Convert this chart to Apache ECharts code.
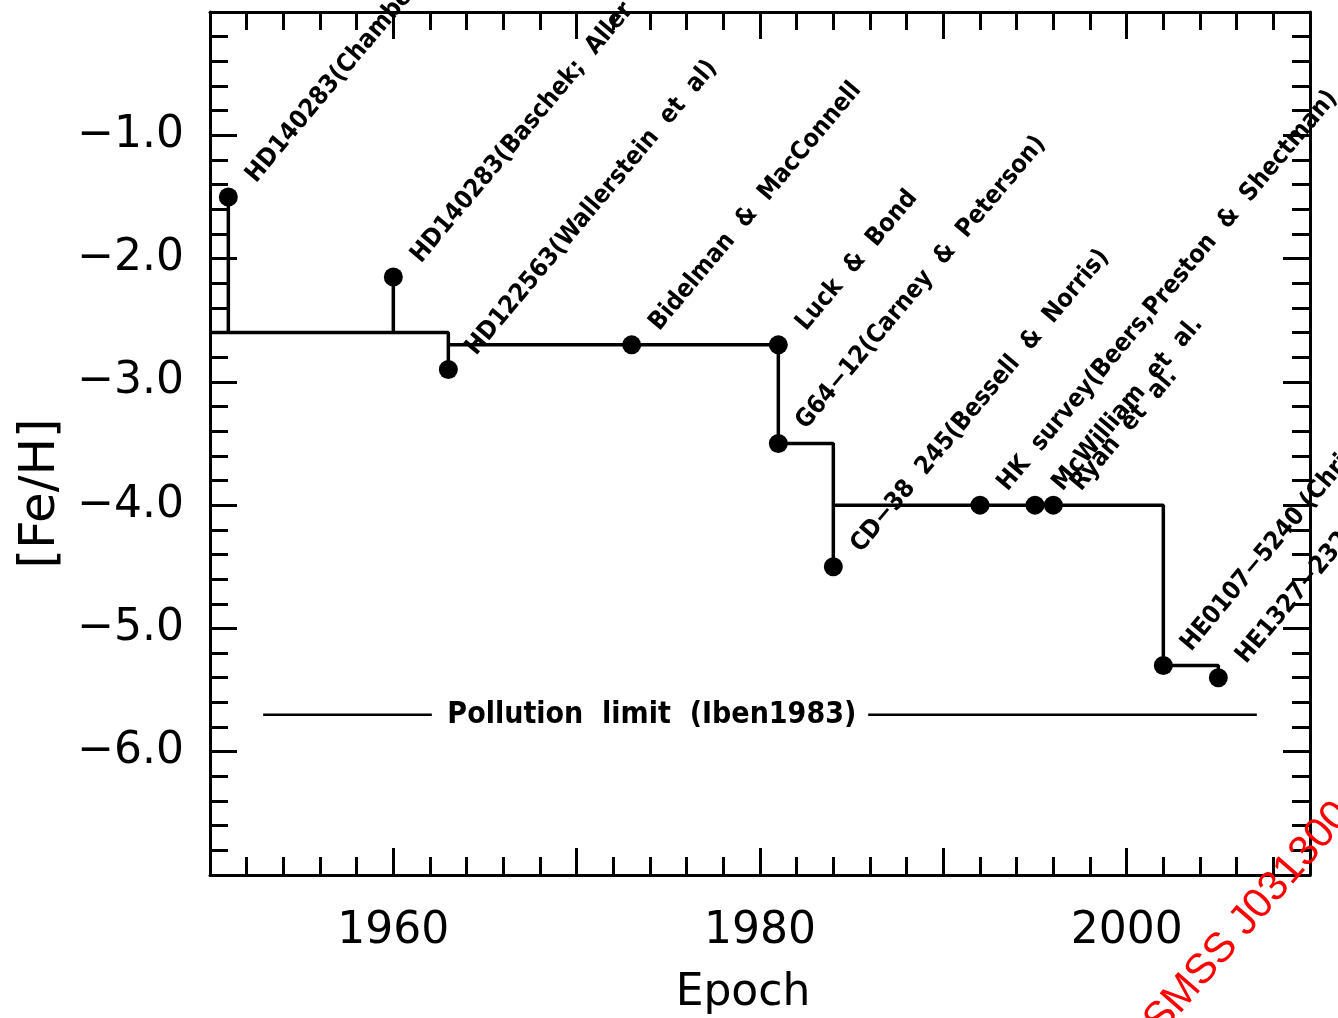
<!DOCTYPE html>
<html>
<head>
<meta charset="utf-8">
<title>[Fe/H] record vs epoch</title>
<script src="https://cdn.jsdelivr.net/npm/echarts@6/dist/echarts.min.js"></script>
<style>
  html, body { margin: 0; padding: 0; background: #fff; }
  #chart { width: 1338px; height: 1018px; }
</style>
</head>
<body>
<div id="chart"></div>
<script>
// Discovery epoch and metallicity of the most metal-poor stars known at the time
const years = [1951, 1960, 1963, 1973, 1981, 1981, 1984, 1992, 1995, 1996, 2002, 2005];
const feh = [-1.5, -2.15, -2.9, -2.7, -2.7, -3.5, -4.5, -4.0, -4.0, -4.0, -5.3, -5.4];
const names = [
  'HD140283(Chamberlain  &  Aller)',
  'HD140283(Baschek;  Aller  &  Greenstein)',
  'HD122563(Wallerstein  et  al)',
  'Bidelman  &  MacConnell',
  'Luck  &  Bond',
  'G64\u221212(Carney  &  Peterson)',
  'CD\u221238  245(Bessell  &  Norris)',
  'HK  survey(Beers,Preston  &  Shectman)',
  'McWilliam  et  al.',
  'Ryan  et  al.',
  'HE0107\u22125240 (Christlieb  et  al.)',
  'HE1327\u22122326 (Frebel  et  al.)'
];

// Record-low envelope, drawn as separate polyline pieces
const recordX = [
  [1951, 1951],
  [1950, 1963, 1963],
  [1960, 1960],
  [1963, 1981, 1981, 1984, 1984],
  [1984, 2002, 2002, 2005, 2005]
];
const recordY = [
  [-1.5, -2.6],
  [-2.6, -2.6, -2.9],
  [-2.15, -2.6],
  [-2.7, -2.7, -3.5, -3.5, -4.5],
  [-4.0, -4.0, -5.3, -5.3, -5.4]
];

// Pollution limit line (two spans around its caption)
const pollutionFeH = -5.7;
const pollutionSpans = [[1952.9, 1962.1], [1985.9, 2007.1]];
const pollutionText = 'Pollution  limit  (Iben1983)';
const pollutionTextYear = 1974.1;

// Later record holder, below the plotted range
const smssYear = 2014;
const smssFeH = -7.1;
const smssName = 'SMSS J031300.36\u2212670839.3';

// Tick labels
const xTickLabels = [1960, 1980, 2000];
const yTickLabels = [-1, -2, -3, -4, -5, -6];

const chart = echarts.init(document.getElementById('chart'), null, { renderer: 'canvas' });

const axisLineStyle = { color: '#000', width: 3 };
function xAxisCfg(pos, showLabels) {
  return {
    type: 'value', position: pos, min: 1950, max: 2010, interval: 10,
    axisLine: { show: true, onZero: false, lineStyle: axisLineStyle },
    axisTick: { show: true, inside: true, length: 27, lineStyle: { color: '#000', width: 3 } },
    minorTick: { show: true, splitNumber: 5, length: 18, lineStyle: { color: '#000', width: 3 } },
    splitLine: { show: false }, minorSplitLine: { show: false },
    axisLabel: {
      show: showLabels, margin: 35, color: '#000', fontSize: 44, fontFamily: 'DejaVu Sans',
      formatter: v => xTickLabels.includes(v) ? String(v) : ''
    },
    name: showLabels ? 'Epoch' : '', nameLocation: 'middle', nameGap: 97,
    nameTextStyle: { color: '#000', fontSize: 44, fontFamily: 'DejaVu Sans', padding: [0, 34, 0, 0] }
  };
}
function yAxisCfg(pos, showLabels) {
  return {
    type: 'value', position: pos, min: -7, max: 0, interval: 1,
    axisLine: { show: true, onZero: false, lineStyle: axisLineStyle },
    axisTick: { show: true, inside: true, length: 27, lineStyle: { color: '#000', width: 3 } },
    minorTick: { show: true, splitNumber: 5, length: 18, lineStyle: { color: '#000', width: 3 } },
    splitLine: { show: false }, minorSplitLine: { show: false },
    axisLabel: {
      show: showLabels, margin: 26, color: '#000', fontSize: 44, fontFamily: 'DejaVu Sans',
      formatter: v => yTickLabels.includes(v) ? '\u2212' + Math.abs(v).toFixed(1) : ''
    },
    name: showLabels ? '[Fe/H]' : '', nameLocation: 'middle', nameGap: 139, nameRotate: 90,
    nameTextStyle: { color: '#000', fontSize: 50, fontFamily: 'DejaVu Sans', padding: [0, 100, 0, 0] }
  };
}

const series = [];
recordX.forEach((xs, i) => {
  series.push({
    type: 'line', symbol: 'none', silent: true, z: 3,
    lineStyle: { color: '#000', width: 3.5 },
    data: xs.map((x, j) => [x, recordY[i][j]])
  });
});
pollutionSpans.forEach(span => {
  series.push({
    type: 'line', symbol: 'none', silent: true, z: 3,
    lineStyle: { color: '#000', width: 2.5 },
    data: span.map(x => [x, pollutionFeH])
  });
});
series.push({
  type: 'scatter', symbolSize: 0, silent: true, z: 4,
  itemStyle: { opacity: 1 },
  data: [[pollutionTextYear, pollutionFeH]],
  label: {
    show: true, position: 'inside', align: 'center', verticalAlign: 'middle',
    formatter: pollutionText, color: '#000', textBorderWidth: 0,
    fontSize: 30, fontWeight: 'bold', fontFamily: 'DejaVu Sans Condensed'
  }
});
series.push({
  type: 'scatter', symbol: 'circle', symbolSize: 19, silent: true, z: 5,
  itemStyle: { color: '#000', opacity: 1 },
  data: years.map((y, i) => [y, feh[i]]),
  label: {
    show: true, position: 'inside', align: 'left', verticalAlign: 'middle',
    rotate: 50, offset: [28, 6],
    formatter: p => names[p.dataIndex], color: '#000', textBorderWidth: 0,
    fontSize: 25, fontWeight: 'bold', fontFamily: 'DejaVu Sans Condensed'
  }
});
series.push({
  type: 'scatter', symbolSize: 0, silent: true, clip: false, z: 5,
  itemStyle: { opacity: 1 },
  data: [[smssYear, smssFeH]],
  label: {
    show: true, position: 'inside', align: 'left', verticalAlign: 'bottom',
    rotate: 49, offset: [-258, -61],
    formatter: smssName, color: '#ff0000', textBorderWidth: 0,
    fontSize: 42, fontFamily: 'Liberation Sans'
  }
});

chart.setOption({
  animation: false,
  backgroundColor: '#fff',
  grid: { left: 210, top: 12, right: 28, bottom: 143, containLabel: false, outerBoundsMode: 'none' },
  xAxis: [xAxisCfg('bottom', true), xAxisCfg('top', false)],
  yAxis: [yAxisCfg('left', true), yAxisCfg('right', false)],
  series: series
});
</script>
</body>
</html>
